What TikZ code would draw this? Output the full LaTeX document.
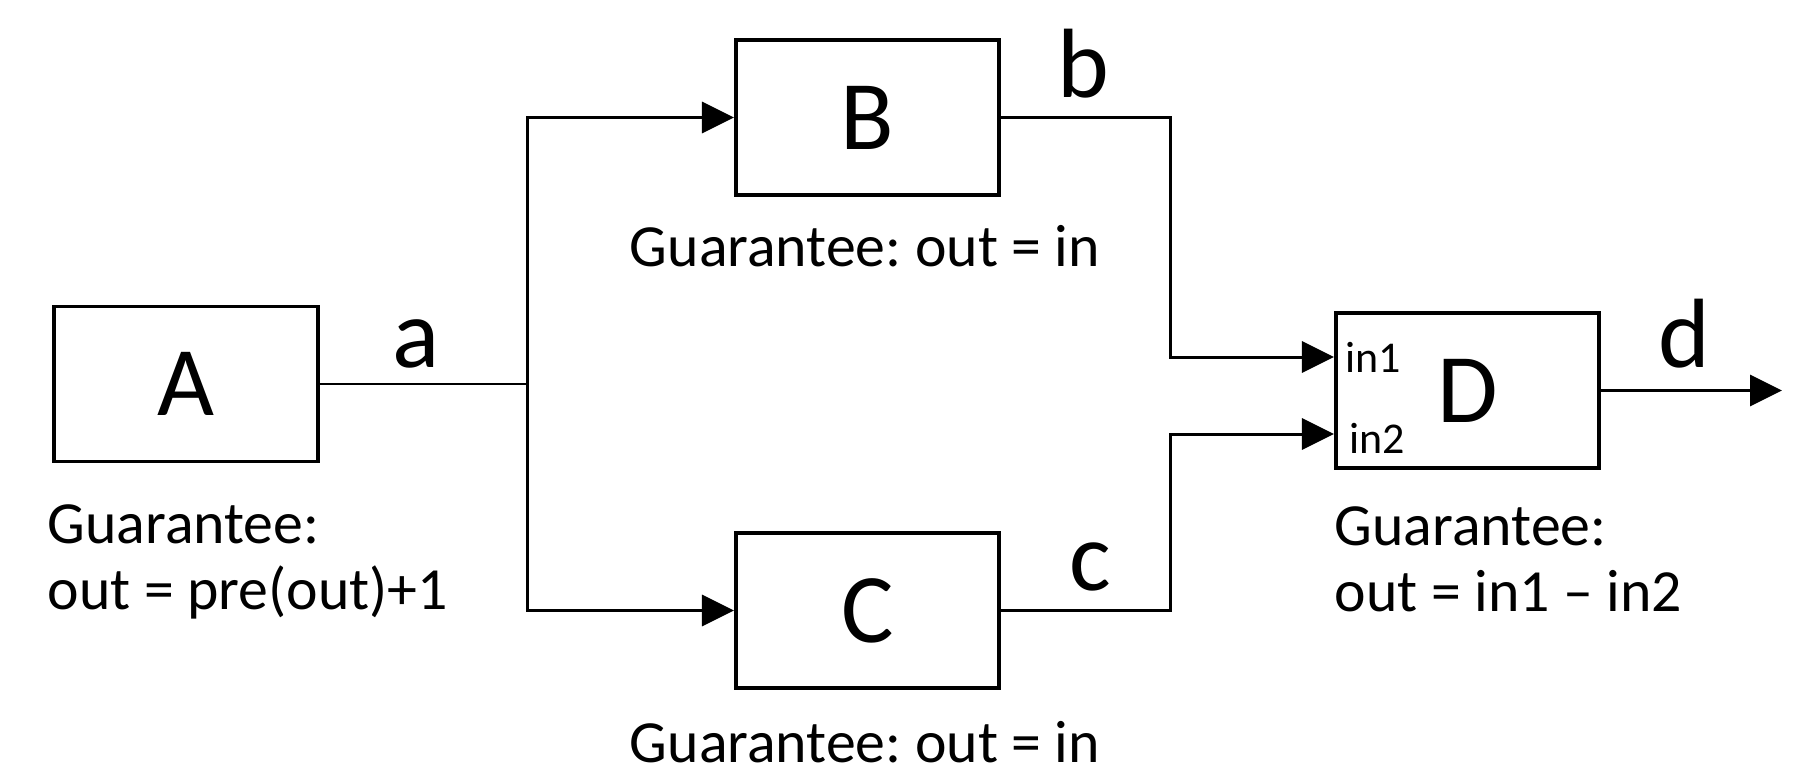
\documentclass[tikz,border=0pt]{standalone}
\usepackage{fontspec}
\setmainfont{Carlito}
\usetikzlibrary{positioning, arrows.meta, calc}
\frenchspacing

\begin{document}
\begin{tikzpicture}[x=0.01cm, y=-0.01cm,
  block/.style={
    rectangle, draw, line width=1.1pt, inner sep=0pt,
    minimum width=2.63cm, minimum height=1.55cm,
    font=\fontsize{28}{32}\selectfont
  },
  sig/.style={inner sep=0pt, anchor=base, font=\fontsize{28}{32}\selectfont},
  note/.style={inner sep=0pt, align=left, font=\fontsize{17}{18.8}\selectfont},
  port/.style={inner sep=0pt, anchor=base west, font=\fontsize{12.5}{14}\selectfont},
  wire/.style={line width=0.85pt},
  flow/.style={wire, -{Triangle[length=3.2mm, width=3.1mm]}}]
\useasboundingbox (0,0) rectangle (1795,782);
\node[block] (A) at (186,384) {A};
\node[block] (B) at (867.5,117.5) {B};
\node[block] (C) at (867.5,610.5) {C};
\node[block] (D) at (1467.5,390.5) {D};
\coordinate (split) at (527,384);
\coordinate (pin1) at ($(D.north west)+(0,46)$);
\coordinate (pin2) at ($(D.north west)+(0,123)$);
\coordinate (dout) at (1782,390.5);
% signal names
\node[sig] (siga) at (416,367) {a};
\node[sig] (sigb) at (1083,98) {b};
\node[sig] (sigc) at (1090,590) {c};
\node[sig] (sigd) at (1684,367) {d};
\node[port] (in1) at (1345,372) {in1};
\node[port] (in2) at (1349,453) {in2};
% guarantees
\node[note, anchor=north west] (gA) at (47,504) {Guarantee:\\out = pre(out)+1};
\node[note, anchor=base] (gB) at (865,266) {Guarantee: out = in};
\node[note, anchor=base] (gC) at (865,762) {Guarantee: out = in};
\node[note, anchor=north west] (gD) at (1334,506) {Guarantee:\\out = in1 -- in2};
% connections
\draw[wire] (A.east) -- (split);
\draw[flow] (split) |- (B.west);
\draw[flow] (split) |- (C.west);
\draw[flow] (B.east) -- ++(169,0) |- (pin1);
\draw[flow] (C.east) -- ++(169,0) |- (pin2);
\draw[flow] (D.east) -- (dout);
\end{tikzpicture}
\end{document}
